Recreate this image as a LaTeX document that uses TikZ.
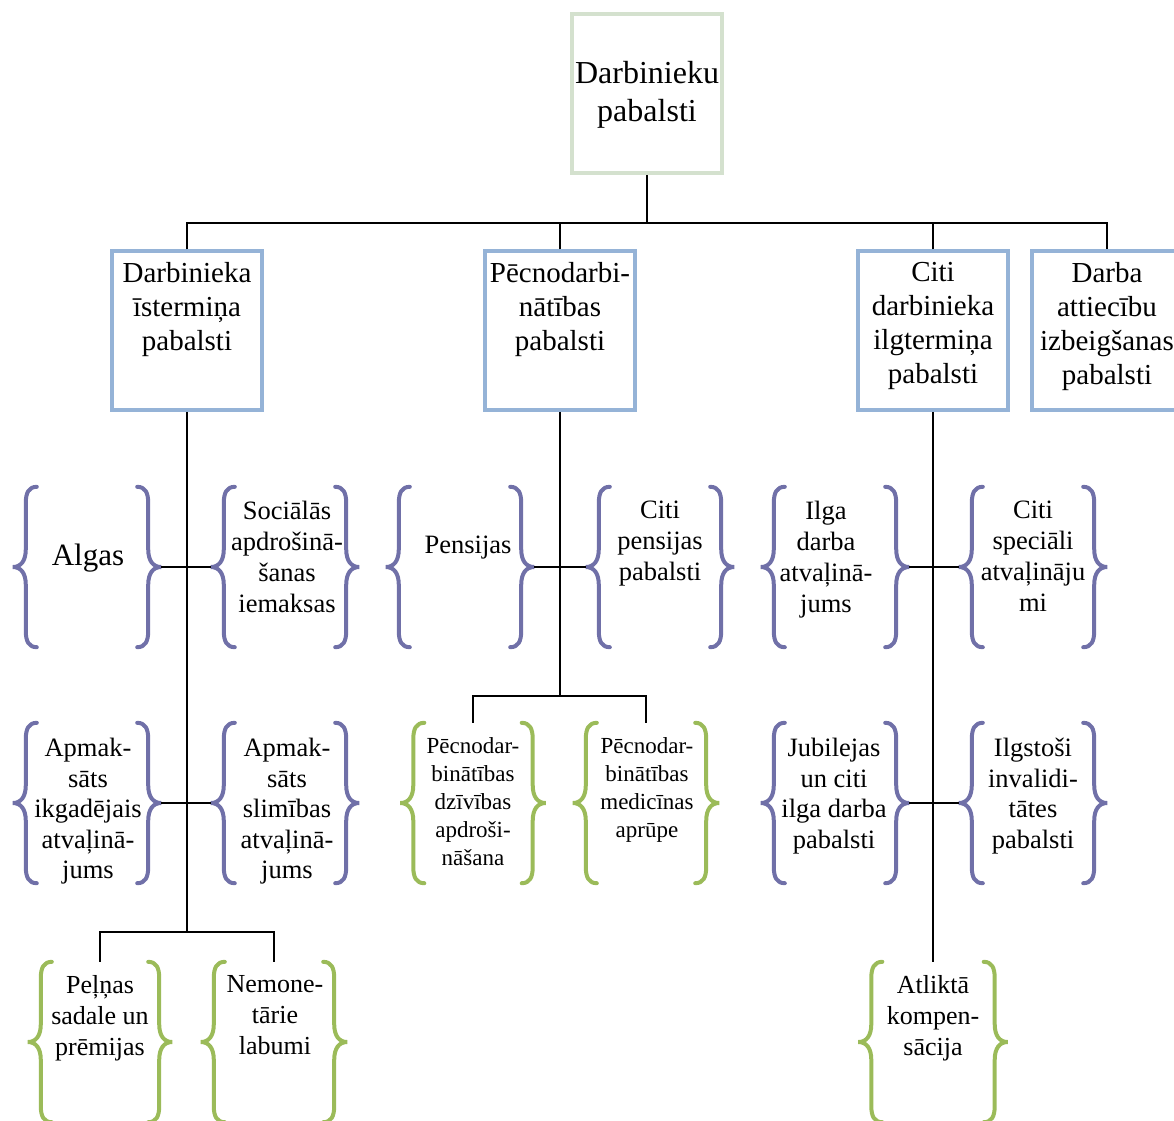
\documentclass[tikz,border=0pt]{standalone}
\usepackage{fontspec}
\setmainfont{Liberation Serif}
\usetikzlibrary{calc}

\definecolor{boxblue}{RGB}{149,179,215}
\definecolor{topgreen}{RGB}{212,225,206}
\definecolor{bpurple}{RGB}{112,112,168}
\definecolor{bgreen}{RGB}{155,187,89}

\newcommand\setfs[2]{\fontsize{#1}{#2}\selectfont}

% a pair of curly braces around a frame node; tips are stored as <name>-L / <name>-R
\newcommand\bracepair[2]{%
  \draw[brace,#2] let \p1=(#1.north west), \p2=(#1.south east), \p3=(#1.west) in
    (\x1+11pt,\y1) .. controls (\x1+3pt,\y1) and (\x1,\y1-6pt) .. (\x1,\y1-16pt)
    -- (\x1,\y3+18pt) .. controls (\x1,\y3+6pt) and (\x1-5pt,\y3) .. (\x1-13pt,\y3) coordinate (#1-L)
    .. controls (\x1-5pt,\y3) and (\x1,\y3-6pt) .. (\x1,\y3-18pt)
    -- (\x1,\y2+16pt) .. controls (\x1,\y2+6pt) and (\x1+3pt,\y2) .. (\x1+11pt,\y2)
    (\x2-11pt,\y1) .. controls (\x2-3pt,\y1) and (\x2,\y1-6pt) .. (\x2,\y1-16pt)
    -- (\x2,\y3+18pt) .. controls (\x2,\y3+6pt) and (\x2+5pt,\y3) .. (\x2+13pt,\y3) coordinate (#1-R)
    .. controls (\x2+5pt,\y3) and (\x2,\y3-6pt) .. (\x2,\y3-18pt)
    -- (\x2,\y2+16pt) .. controls (\x2,\y2+6pt) and (\x2-3pt,\y2) .. (\x2-11pt,\y2);
}

\tikzset{
  box/.style={draw=boxblue, line width=3.5pt, minimum width=150pt, minimum height=159pt, inner sep=0pt},
  topbox/.style={box, draw=topgreen},
  frame/.style={inner sep=0pt, minimum width=122pt, minimum height=160pt},
  txt/.style={anchor=north, align=center, inner sep=0pt, execute at begin node=\strut},
  ttop/.style={txt, font=\setfs{32}{38}},
  tmid/.style={txt, font=\setfs{29}{34}},
  tsub/.style={txt, font=\setfs{26.5}{31}},
  tsubb/.style={txt, font=\setfs{26.5}{30.5}},
  tgrn/.style={txt, font=\setfs{23}{28}},
  tlow/.style={txt, font=\setfs{26}{31}},
  link/.style={line width=2.5pt},
  brace/.style={line width=4pt, line cap=round},
}

\begin{document}
\begin{tikzpicture}[x=1pt, y=-1pt]
\useasboundingbox (0,0) rectangle (1174,1120);
\clip (0,0) rectangle (1174,1120);

% ---- boxes ----
\node[topbox] (top) at (647,93.5) {};
\node[box] (A) at (187,330.5) {};
\node[box] (B) at (560,330.5) {};
\node[box] (C) at (933,330.5) {};
\node[box] (D) at (1107,330.5) {};

\node[ttop] (ttop) at (647,61) {Darbinieku\\pabalsti};
\node[tmid] (tA) at (187,262) {Darbinieka\\īstermiņa\\pabalsti};
\node[tmid] (tB) at (560,262) {Pēcnodarbi-\\nātības\\pabalsti};
\node[tmid] (tC) at (933,262) {Citi\\darbinieka\\ilgtermiņa\\pabalsti};
\node[tmid] (tD) at (1107,262) {Darba\\attiecību\\izbeigšanas\\pabalsti};

% ---- brace frames ----
\node[frame] (algas) at (87,567) {};
\node[frame] (soc)   at (285,567) {};
\node[frame] (pens)  at (460,567) {};
\node[frame] (citip) at (660,567) {};
\node[frame] (ilga)  at (835,567) {};
\node[frame] (citis) at (1033,567) {};

\node[frame] (ikg)   at (87,803) {};
\node[frame] (slim)  at (285,803) {};
\node[frame, minimum width=119pt] (dziv) at (473,803) {};
\node[frame, minimum width=120pt] (medi) at (646,803) {};
\node[frame] (jub)   at (835,803) {};
\node[frame] (inv)   at (1033,803) {};

\node[frame, minimum width=118pt] (peln) at (100,1042) {};
\node[frame, minimum width=120pt] (nem)  at (274,1042) {};
\node[frame, minimum width=123pt] (atl)  at (933,1042) {};

\bracepair{algas}{bpurple}
\bracepair{soc}{bpurple}
\bracepair{pens}{bpurple}
\bracepair{citip}{bpurple}
\bracepair{ilga}{bpurple}
\bracepair{citis}{bpurple}
\bracepair{ikg}{bpurple}
\bracepair{slim}{bpurple}
\bracepair{dziv}{bgreen}
\bracepair{medi}{bgreen}
\bracepair{jub}{bpurple}
\bracepair{inv}{bpurple}
\bracepair{peln}{bgreen}
\bracepair{nem}{bgreen}
\bracepair{atl}{bgreen}

% ---- brace texts ----
\node[txt, font=\setfs{31}{36}] (talgas) at (88,540) {Algas};
\node[tsub] (tsoc)   at (287,501) {Sociālās\\apdrošinā-\\šanas\\iemaksas};
\node[tsub] (tpens)  at (468,532) {Pensijas};
\node[tsub] (tcitip) at (660,501) {Citi\\pensijas\\pabalsti};
\node[tsub] (tilga)  at (826,501) {Ilga\\darba\\atvaļinā-\\jums};
\node[tsub] (tcitis) at (1033,501) {Citi\\speciāli\\atvaļināju\\mi};

\node[tsubb] (tikg)  at (88,738) {Apmak-\\sāts\\ikgadējais\\atvaļinā-\\jums};
\node[tsubb] (tslim) at (287,738) {Apmak-\\sāts\\slimības\\atvaļinā-\\jums};
\node[tgrn]  (tdziv) at (473,737) {Pēcnodar-\\binātības\\dzīvības\\apdroši-\\nāšana};
\node[tgrn]  (tmedi) at (647,737) {Pēcnodar-\\binātības\\medicīnas\\aprūpe};
\node[tsubb] (tjub)  at (834,738) {Jubilejas\\un citi\\ilga darba\\pabalsti};
\node[tsubb] (tinv)  at (1033,738) {Ilgstoši\\invalidi-\\tātes\\pabalsti};

\node[tlow] (tpeln) at (100,975) {Peļņas\\sadale un\\prēmijas};
\node[tlow] (tnem)  at (275,975) {Nemone-\\tārie\\labumi};
\node[tlow] (tatl)  at (933,975) {Atliktā\\kompen-\\sācija};

% ---- connectors ----
\coordinate (bus) at (647,223);
\draw[link] (top.south) -- (bus);
\draw[link] (A.north) |- (D.north |- bus) -- (D.north);
\draw[link] (B.north) -- (B.north |- bus);
\draw[link] (C.north) -- (C.north |- bus);

\coordinate (jA) at (187,932);
\draw[link] (A.south) -- (jA);
\draw[link] (peln.north) |- (jA) -| (nem.north);

\coordinate (jB) at (560,696);
\draw[link] (B.south) -- (jB);
\draw[link] (dziv.north) |- (jB) -| (medi.north);

\draw[link] (C.south) -- (atl.north);

\draw[link] (algas-R) -- (soc-L);
\draw[link] (ikg-R) -- (slim-L);
\draw[link] (pens-R) -- (citip-L);
\draw[link] (ilga-R) -- (citis-L);
\draw[link] (jub-R) -- (inv-L);
\end{tikzpicture}
\end{document}
